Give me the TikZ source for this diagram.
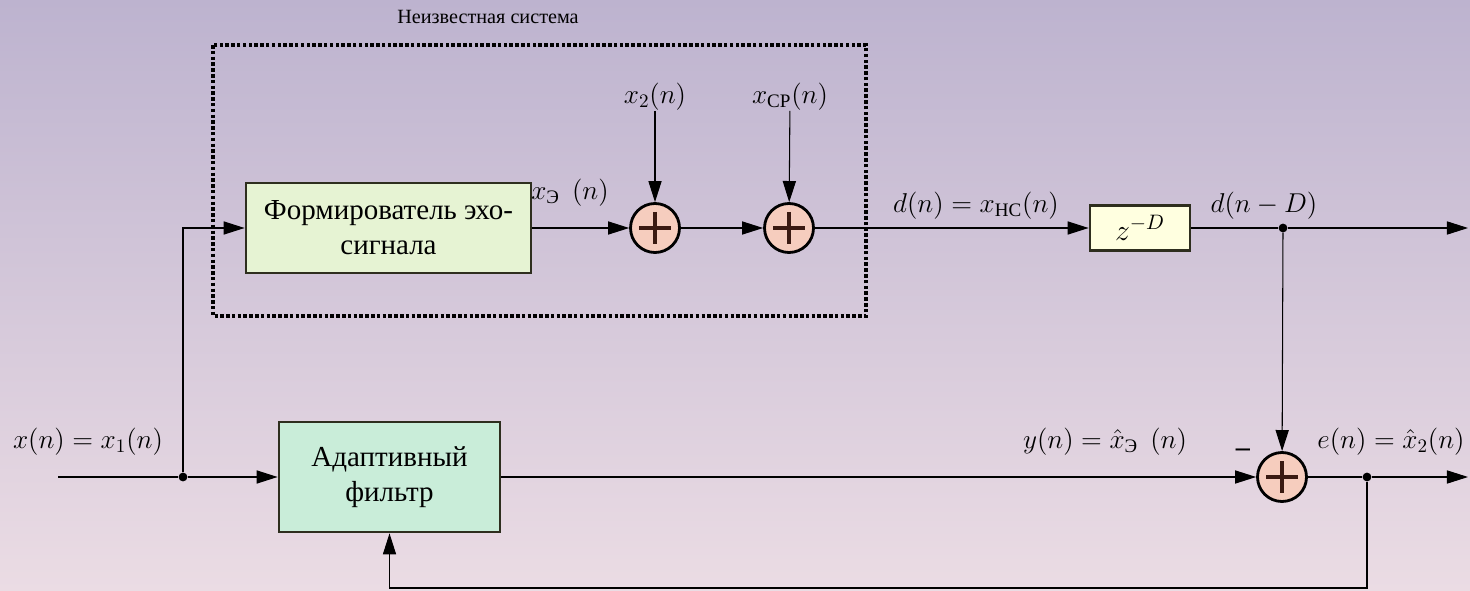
\RequirePackage{fix-cm}
\documentclass[tikz,border=0pt]{standalone}
\usepackage{amsmath}
\usepackage{fontspec}
\setmainfont{Liberation Serif}
\usetikzlibrary{arrows.meta,positioning,calc}
\definecolor{bgtop}{HTML}{BDB3CF}
\definecolor{bgbottom}{HTML}{EBDCE4}
\definecolor{formgreen}{HTML}{E6F3D3}
\definecolor{adaptmint}{HTML}{C9EDD9}
\definecolor{delayyellow}{HTML}{FFFFE0}
\definecolor{sumpink}{HTML}{F6CDBE}
\definecolor{plusbrown}{HTML}{3A1A12}
\definecolor{edgeolive}{HTML}{2E2E1E}

\begin{document}
\begin{tikzpicture}[
    x=0.02cm, y=-0.02cm,
    blk/.style={rectangle, draw=edgeolive, line width=1.6pt, align=center, inner sep=0pt, font=\fontsize{16.5}{20}\selectfont},
    sumc/.style={circle, draw=black, line width=1.6pt, fill=sumpink, minimum size=0.98cm, inner sep=0pt,
      path picture={\draw[line width=1.8pt, plusbrown]
        ($(path picture bounding box.center)+(-16,0)$) -- ($(path picture bounding box.center)+(16,0)$)
        ($(path picture bounding box.center)+(0,-16)$) -- ($(path picture bounding box.center)+(0,16)$);}},
    lbl/.style={font=\fontsize{15.5}{18}\selectfont, inner sep=0pt},
    dot/.style={circle, fill=black, minimum size=5pt, inner sep=0pt},
    arrow/.style={-{Triangle[length=12pt,width=7.5pt]}, line width=0.6pt},
    wire/.style={line width=0.6pt}
]
  % background
  \useasboundingbox (0,0) rectangle (1470,591);
  \fill[top color=bgtop, bottom color=bgbottom] (0,0) rectangle (1470,591);

  % unknown system
  \node[font=\fontsize{11.5}{13}\selectfont] (title) at (488,17) {Неизвестная система};
  \draw[line width=2.2pt, dash pattern=on 2pt off 1.3pt] (213,45) rectangle (866,316);

  \node[blk, fill=formgreen, minimum width=5.7cm, minimum height=1.8cm] (form) at (388.5,228) {Формирователь эхо-\\сигнала};
  \node[sumc] (s1) at (655,228) {};
  \node[sumc] (s2) at (789,228) {};
  \node[lbl] (x2) at (655,97) {$x_2(n)$};
  \node[lbl] (xcp) at (790,97) {$x_{\mathrm{CP}}(n)$};
  \node[lbl] (xe) at (570,193) {$x_{\text{Э}}\;\,(n)$};

  % delay
  \node[blk, fill=delayyellow, minimum width=2cm, minimum height=0.9cm, font=\fontsize{17}{20}\selectfont] (delay) at (1140,228) {$z^{-D}$};
  \node[lbl] (dn) at (976,206) {$d(n) = x_{\mathrm{HC}}(n)$};
  \node[lbl] (dnd) at (1264,206) {$d(n-D)$};
  \node[dot] (j1) at (1283,228) {};
  \coordinate (out1) at (1468,228);

  % adaptive filter
  \node[blk, fill=adaptmint, minimum width=4.42cm, minimum height=2.2cm] (adapt) at (389.5,477) {Адаптивный\\фильтр};
  \node[lbl] (xn) at (88,442) {$x(n) = x_1(n)$};
  \coordinate (in) at (58,477);
  \node[dot] (j0) at (183,477) {};
  \node[sumc] (s3) at (1282,477) {};
  \node[lbl] (yn) at (1105,442) {$y(n) = \hat{x}_{\text{Э}}\;\,(n)$};
  \node[lbl] (en) at (1391,442) {$e(n) = \hat{x}_2(n)$};
  \node[font=\fontsize{16}{16}\selectfont\bfseries, inner sep=0pt] (minus) at (1243,453) {--};
  \node[dot] (j2) at (1367,477) {};
  \coordinate (out2) at (1468,477);
  \coordinate (fb) at (1367,588);

  % connectors
  \draw[wire] (in) -- (j0);
  \draw[arrow] (j0) -- (adapt);
  \draw[arrow] (j0) |- (form);
  \draw[arrow] (form) -- (s1);
  \draw[arrow] (x2) -- (s1);
  \draw[arrow] (xcp) -- (s2);
  \draw[arrow] (s1) -- (s2);
  \draw[arrow] (s2) -- (delay);
  \draw[wire] (delay) -- (j1);
  \draw[arrow] (j1) -- (out1);
  \draw[arrow] (j1) -- (s3);
  \draw[arrow] (adapt) -- (s3);
  \draw[wire] (s3) -- (j2);
  \draw[arrow] (j2) -- (out2);
  \draw[arrow] (j2) -- (fb) -| (adapt.south);
\end{tikzpicture}
\end{document}
